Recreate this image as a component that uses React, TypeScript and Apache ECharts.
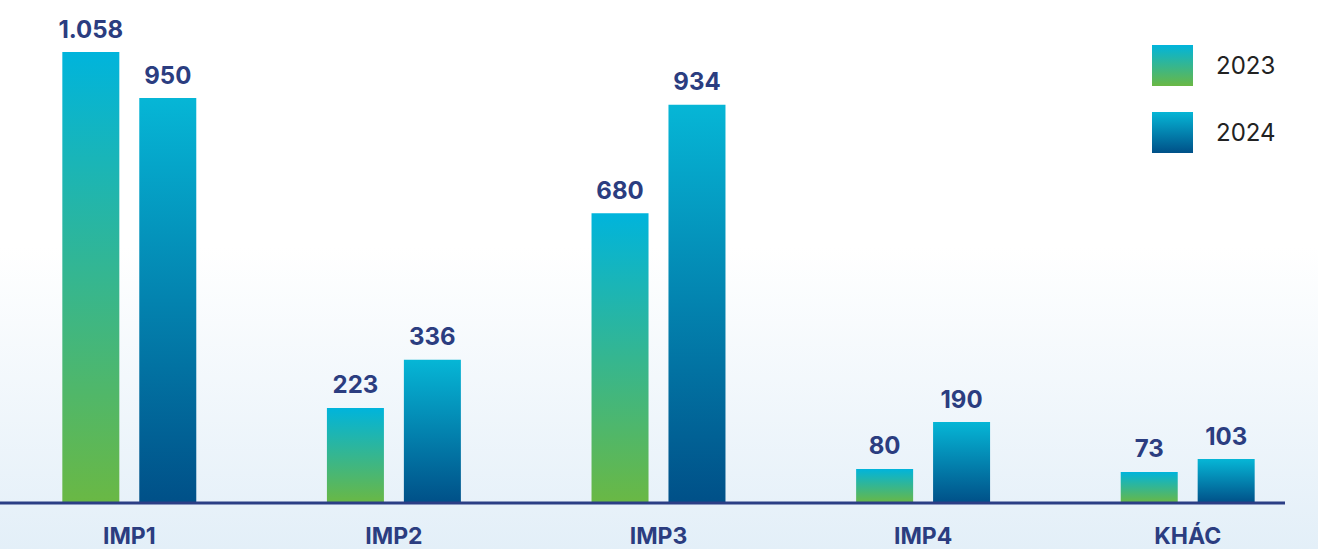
import React, { useEffect, useRef } from "react";
import * as echarts from "echarts";

const categories = ["IMP1", "IMP2", "IMP3", "IMP4", "KHÁC"];
const values2023 = [1058, 223, 680, 80, 73];
const values2024 = [950, 336, 934, 190, 103];
const seriesNames = ["2023", "2024"];

const fmt = (v: number) => String(v).replace(/\B(?=(\d{3})+(?!\d))/g, ".");

export default function App() {
  const ref = useRef<HTMLDivElement>(null);
  useEffect(() => {
    if (!ref.current) return;
    const chart = echarts.init(ref.current, null, { renderer: "svg" });
    const grad = (top: string, bottom: string) =>
      new echarts.graphic.LinearGradient(0, 0, 0, 1, [
        { offset: 0, color: top },
        { offset: 1, color: bottom },
      ]);
    const labelStyle = {
      show: true,
      position: "top" as const,
      distance: 11,
      color: "#2b3d80",
      fontFamily: "Inter",
      fontWeight: "bold" as const,
      fontSize: 24,
      formatter: (p: any) => fmt(p.value),
    };
    chart.setOption({
      animation: false,
      backgroundColor: new echarts.graphic.LinearGradient(0, 0, 0, 1, [
        { offset: 0, color: "#ffffff" },
        { offset: 0.45, color: "#ffffff" },
        { offset: 1, color: "#e3eff8" },
      ]),
      grid: { left: 0, right: 0, top: 0, bottom: 46, containLabel: false },
      legend: {
        orient: "vertical",
        left: 1155,
        top: 45,
        padding: 0,
        itemWidth: 41,
        itemHeight: 41,
        itemGap: 26,
        icon: "rect",
        textStyle: { fontFamily: "Inter", fontSize: 24, color: "#222222", padding: [0, 0, 0, 18] },
        data: seriesNames,
      },
      xAxis: {
        type: "category",
        data: categories,
        axisLine: { show: false },
        axisTick: { show: false },
        axisLabel: {
          margin: 21,
          color: "#2b3d80",
          fontFamily: "Inter",
          fontWeight: "bold",
          fontSize: 23,
        },
      },
      yAxis: {
        type: "value",
        min: 0,
        max: 1180,
        show: false,
        splitLine: { show: false },
      },
      graphic: [
        {
          type: "line",
          shape: { x1: 3, y1: 503, x2: 1288, y2: 503 },
          style: { stroke: "#2b3e85", lineWidth: 3 },
          z: 10,
        },
      ],
      series: [
        {
          name: seriesNames[0],
          type: "bar",
          data: values2023,
          barWidth: 57,
          barGap: "35%",
          itemStyle: { color: grad("#00b4dc", "#6ab844") },
          label: labelStyle,
        },
        {
          name: seriesNames[1],
          type: "bar",
          data: values2024,
          barWidth: 57,
          barGap: "35%",
          itemStyle: { color: grad("#06b6d6", "#005088") },
          label: labelStyle,
        },
      ],
    });
    return () => chart.dispose();
  }, []);
  return (
    <div
      ref={ref}
      style={{ position: "absolute", left: -3, top: 0, width: 1323, height: 549 }}
    />
  );
}
